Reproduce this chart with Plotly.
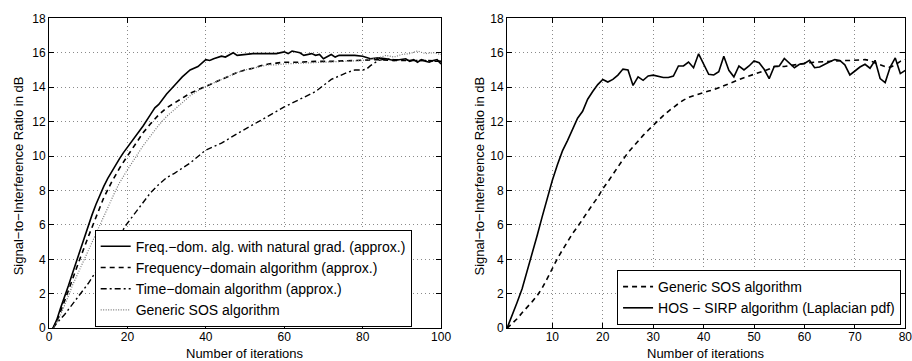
import plotly.graph_objects as go

# ---------------- Left panel data ----------------
nat_x = [1, 2, 3, 4, 5, 6, 7, 8, 9, 10, 11, 12, 13, 14, 15, 16, 17, 18, 19, 20, 22, 24, 26, 27, 28, 30, 32, 34, 36, 38,
         40, 41, 42, 44, 45, 46, 47, 48, 50, 52, 55, 58, 60, 61, 62, 63, 64, 65, 66, 67, 68, 69, 70, 71, 72, 73, 74,
         76, 78, 80, 82, 84, 86, 88, 90, 91, 92, 93, 94, 95, 96, 97, 98, 99, 100]
nat_y = [0, 0.5, 1.2, 1.8, 2.5, 3.2, 3.9, 4.6, 5.3, 6.0, 6.6, 7.2, 7.75, 8.25, 8.7, 9.1, 9.5, 9.85, 10.2, 10.5, 11.1,
         11.75, 12.45, 12.8, 13.0, 13.6, 14.1, 14.6, 15.0, 15.2, 15.6, 15.55, 15.65, 15.8, 15.75, 15.9, 16.0, 15.85,
         15.9, 15.95, 15.95, 15.95, 16.05, 15.95, 16.1, 16.05, 16.0, 15.85, 15.9, 15.95, 15.85, 15.9, 15.65, 15.8,
         15.9, 15.75, 15.85, 15.85, 15.85, 15.8, 15.65, 15.7, 15.65, 15.55, 15.6, 15.65, 15.5, 15.6, 15.45, 15.6,
         15.5, 15.45, 15.55, 15.6, 15.35]

fd_x = [1, 2, 4, 6, 8, 10, 12, 14, 16, 18, 20, 22, 24, 26, 28, 30, 32, 34, 36, 38, 40, 42, 44, 46, 48, 50, 52, 54,
        56, 58, 60, 64, 68, 72, 76, 80, 84, 88, 92, 96, 100]
fd_y = [0, 0.4, 1.6, 2.9, 4.1, 5.3, 6.5, 7.6, 8.5, 9.3, 10.0, 10.7, 11.35, 11.9, 12.4, 12.8, 13.1, 13.4, 13.65, 13.85,
        14.05, 14.25, 14.45, 14.65, 14.85, 15.0, 15.1, 15.25, 15.35, 15.4, 15.45, 15.45, 15.5, 15.5, 15.52, 15.55,
        15.6, 15.55, 15.55, 15.55, 15.5]

td_x = [1, 2, 4, 6, 8, 10, 12, 14, 16, 18, 20, 22, 24, 26, 28, 30, 32, 34, 36, 40, 44, 48, 52, 56, 60, 64, 68, 70,
        72, 74, 76, 78, 80, 81, 82, 84, 86, 88, 90, 92, 94, 96, 98, 100]
td_y = [0, 0.3, 0.8, 1.4, 2.0, 2.6, 3.3, 4.0, 4.7, 5.4, 6.1, 6.7, 7.3, 7.9, 8.35, 8.75, 9.0, 9.3, 9.6, 10.35, 10.75,
        11.3, 11.8, 12.3, 12.85, 13.3, 13.75, 14.1, 14.45, 14.65, 14.85, 15.0, 15.0, 15.05, 15.25, 15.55, 15.65,
        15.6, 15.6, 15.55, 15.55, 15.55, 15.5, 15.5]

sos_x = [1, 2, 3, 4, 5, 6, 7, 8, 9, 10, 11, 12, 13, 14, 15, 16, 17, 18, 19, 20, 22, 24, 26, 28, 30, 32, 34, 36, 38,
         40, 42, 44, 46, 48, 50, 52, 54, 56, 58, 60, 65, 70, 75, 80, 84, 86, 88, 90, 92, 94, 96, 98, 100]
sos_y = [0, 0.3, 0.8, 1.3, 1.9, 2.5, 3.0, 3.5, 4.0, 4.5, 5.0, 5.6, 6.1, 6.6, 7.1, 7.6, 8.0, 8.45, 8.85, 9.2, 9.9,
         10.6, 11.2, 11.8, 12.3, 12.7, 13.1, 13.5, 13.8, 14.05, 14.25, 14.45, 14.65, 14.85, 15.0, 15.1, 15.2, 15.3,
         15.3, 15.35, 15.4, 15.45, 15.5, 15.55, 15.7, 15.85, 15.75, 15.9, 15.95, 16.1, 15.95, 16.0, 15.9]

# ---------------- Right panel data ----------------
r_x = list(range(1, 81))
hos_y = [0, 0.7, 1.5, 2.3, 3.3, 4.4, 5.4, 6.5, 7.6, 8.6, 9.5, 10.3, 10.9, 11.6, 12.2, 12.6, 13.3, 13.75, 14.15, 14.45,
         14.3, 14.45, 14.7, 15.05, 15.0, 14.1, 14.6, 14.4, 14.65, 14.7, 14.65, 14.56, 14.56, 14.65, 15.23, 15.23,
         15.46, 15.13, 15.94, 15.33, 14.75, 14.71, 14.9, 15.8, 14.98, 14.6, 15.23, 15.0, 15.23, 15.52, 15.42, 15.04,
         14.5, 15.2, 15.23, 15.67, 15.37, 15.13, 15.33, 15.38, 15.56, 15.13, 15.17, 15.33, 15.48, 15.6, 15.55, 15.3,
         14.71, 14.94, 15.17, 15.33, 15.1, 15.56, 14.5, 14.27, 15.17, 15.7, 14.79, 14.98]
gen_y = [0, 0.25, 0.55, 0.9, 1.2, 1.55, 1.9, 2.35, 2.9, 3.5, 4.05, 4.55, 5.05, 5.5, 5.9, 6.35, 6.8, 7.2, 7.6, 8.1,
         8.5, 8.95, 9.4, 9.8, 10.2, 10.55, 10.9, 11.2, 11.5, 11.8, 12.05, 12.35, 12.6, 12.85, 13.05, 13.25, 13.4,
         13.5, 13.6, 13.7, 13.78, 13.85, 13.97, 14.1, 14.22, 14.35, 14.45, 14.55, 14.65, 14.75, 14.85, 14.95, 15.05,
         15.2, 15.2, 15.2, 15.25, 15.3, 15.35, 15.4, 15.42, 15.45, 15.47, 15.5, 15.5, 15.5, 15.52, 15.55, 15.55,
         15.55, 15.58, 15.6, 15.55, 15.4, 15.3, 15.2, 15.15, 15.3, 15.5, 15.6]

left_xticks = [0, 20, 40, 60, 80, 100]
right_xticks = [10, 20, 30, 40, 50, 60, 70, 80]
yticks = [0, 2, 4, 6, 8, 10, 12, 14, 16, 18]

FONT = "Liberation Sans, Arial, Helvetica, sans-serif"

fig = go.Figure()

fig.add_trace(go.Scatter(x=nat_x, y=nat_y, mode="lines", name="Freq.−dom. alg. with natural grad. (approx.)",
                         line=dict(color="black", width=1.6, dash="solid"), xaxis="x", yaxis="y", legend="legend"))
fig.add_trace(go.Scatter(x=fd_x, y=fd_y, mode="lines", name="Frequency−domain algorithm (approx.)",
                         line=dict(color="black", width=1.6, dash="5px,4px"), xaxis="x", yaxis="y", legend="legend"))
fig.add_trace(go.Scatter(x=td_x, y=td_y, mode="lines", name="Time−domain algorithm (approx.)",
                         line=dict(color="black", width=1.4, dash="6px,3px,2px,3px"), xaxis="x", yaxis="y",
                         legend="legend"))
fig.add_trace(go.Scatter(x=sos_x, y=sos_y, mode="lines", name="Generic SOS algorithm",
                         line=dict(color="#777777", width=1.2, dash="1px,1.5px"), xaxis="x", yaxis="y",
                         legend="legend"))

fig.add_trace(go.Scatter(x=r_x, y=gen_y, mode="lines", name="Generic SOS algorithm",
                         line=dict(color="black", width=1.6, dash="5px,4px"), xaxis="x2", yaxis="y2",
                         legend="legend2"))
fig.add_trace(go.Scatter(x=r_x, y=hos_y, mode="lines", name="HOS − SIRP algorithm (Laplacian pdf)",
                         line=dict(color="black", width=1.6, dash="solid"), xaxis="x2", yaxis="y2",
                         legend="legend2"))

axis_common = dict(showline=True, linecolor="black", linewidth=1, mirror="ticks", ticks="inside", ticklen=5,
                   tickcolor="black", showgrid=True, gridcolor="#8a8a8a", griddash="1px,3px", gridwidth=1,
                   zeroline=False, automargin=False, ticklabeloverflow="allow",
                   tickfont=dict(family=FONT, size=12, color="black"))

ydom = [0.0906, 0.9493]
fig.update_layout(
    width=912, height=361, margin=dict(l=0, r=0, t=0, b=0, autoexpand=False),
    paper_bgcolor="white", plot_bgcolor="white",
    font=dict(family=FONT, size=12, color="black"),
    xaxis=dict(domain=[0.0537, 0.4836], range=[0, 100], tickvals=left_xticks, anchor="y",
               ticklabelstandoff=-3, **axis_common),
    yaxis=dict(domain=ydom, range=[0, 18], tickvals=yticks, anchor="x", **axis_common),
    xaxis2=dict(domain=[0.5559, 0.9927], range=[1, 80], tickvals=right_xticks, anchor="y2",
                ticklabelstandoff=-3, **axis_common),
    yaxis2=dict(domain=ydom, range=[0, 18], tickvals=yticks, anchor="x2", **axis_common),
    legend=dict(x=0.4514, y=0.095, xanchor="right", yanchor="bottom", bgcolor="white", bordercolor="black",
                borderwidth=1, font=dict(family=FONT, size=14, color="black"), itemwidth=30,
                tracegroupgap=0),
    legend2=dict(x=0.988, y=0.0997, xanchor="right", yanchor="bottom", bgcolor="white", bordercolor="black",
                 borderwidth=1, font=dict(family=FONT, size=14, color="black"), itemwidth=30,
                 tracegroupgap=0),
    showlegend=True,
)

# axis titles
fig.add_annotation(text="Number of iterations", x=245 / 912, y=1 - 353.5 / 361, xref="paper", yref="paper",
                   showarrow=False, font=dict(family=FONT, size=13), xanchor="center", yanchor="middle")
fig.add_annotation(text="Number of iterations", x=706 / 912, y=1 - 353.5 / 361, xref="paper", yref="paper",
                   showarrow=False, font=dict(family=FONT, size=13), xanchor="center", yanchor="middle")
fig.add_annotation(text="Signal−to−Interference Ratio in dB", x=18.3 / 912, y=1 - 176 / 361, xref="paper",
                   yref="paper", showarrow=False, textangle=-90, font=dict(family=FONT, size=13),
                   xanchor="center", yanchor="middle")
fig.add_annotation(text="Signal−to−Interference Ratio in dB", x=478.5 / 912, y=1 - 176 / 361, xref="paper",
                   yref="paper", showarrow=False, textangle=-90, font=dict(family=FONT, size=13),
                   xanchor="center", yanchor="middle")

fig.write_html("out.html")
